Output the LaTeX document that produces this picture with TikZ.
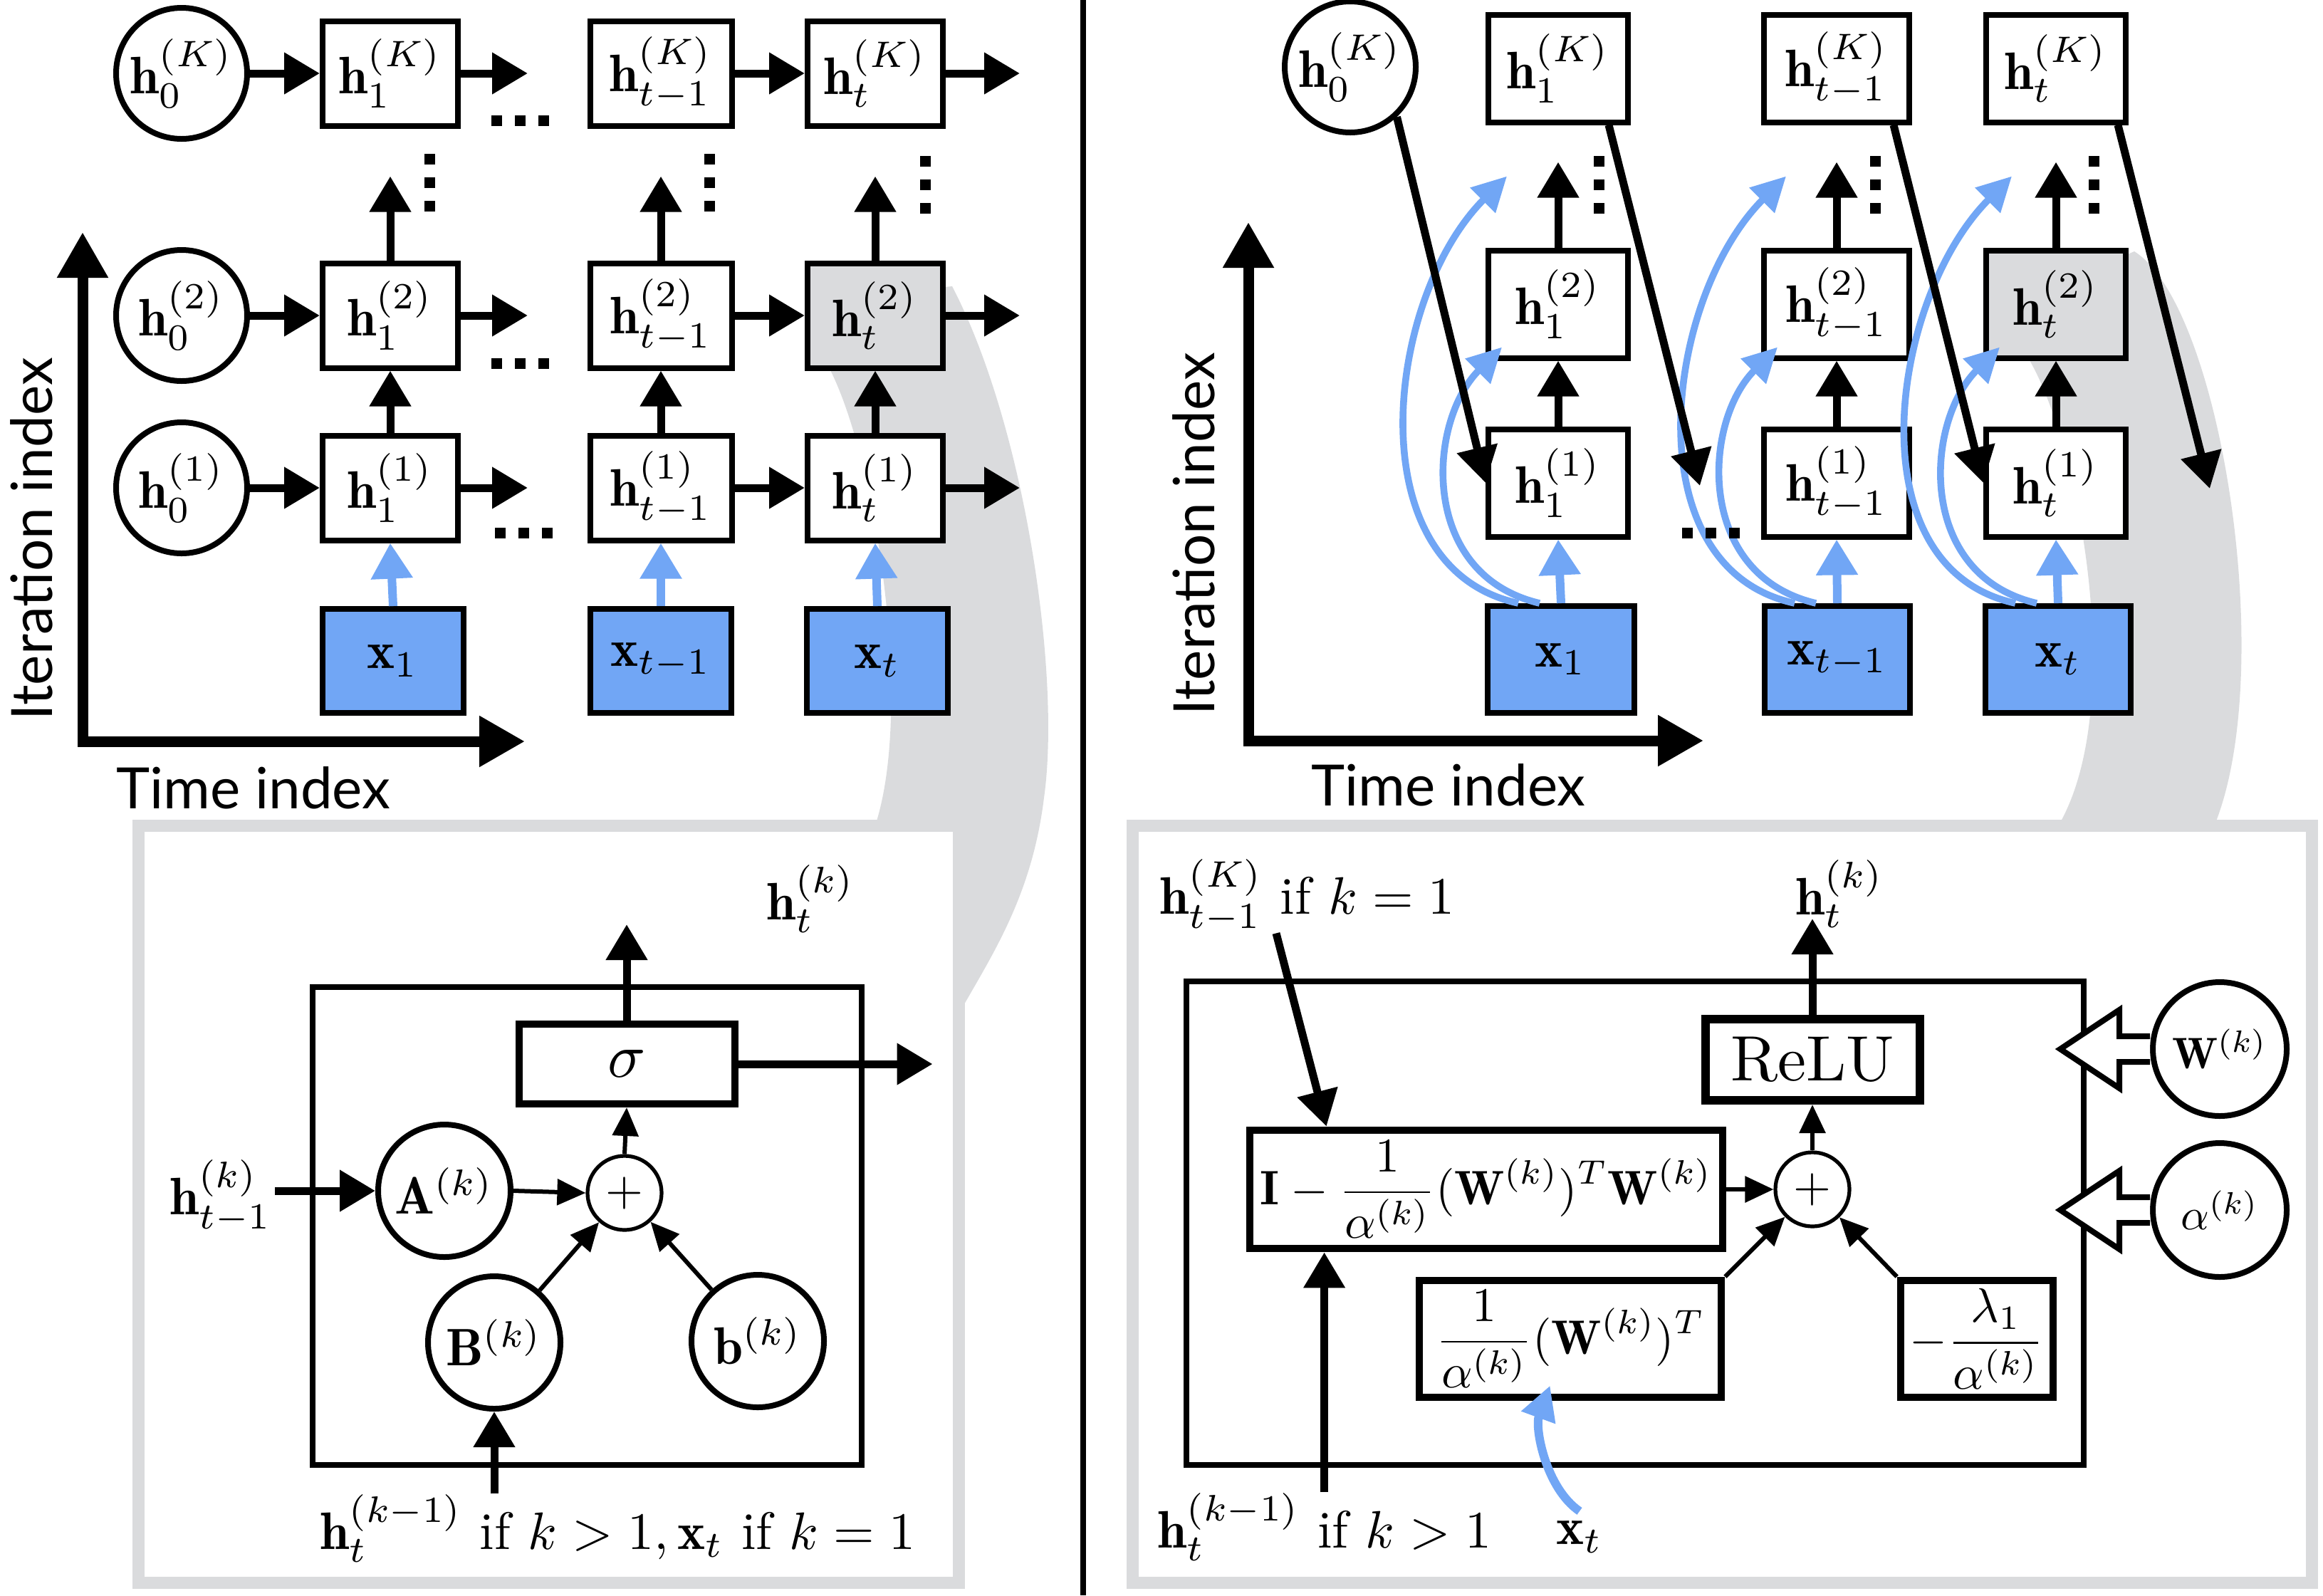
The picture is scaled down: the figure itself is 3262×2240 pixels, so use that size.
\documentclass[tikz,border=0pt]{standalone}
\usepackage{graphicx}
\usepackage{fontspec}
\newfontfamily\gillfont{Lato}
\usetikzlibrary{arrows.meta,calc}
\definecolor{xblue}{RGB}{113,166,245}
\definecolor{bandgray}{RGB}{218,219,221}
\newcommand{\mt}[1]{\scalebox{1.85}{$#1$}}
\newcommand{\lt}[1]{\scalebox{1.85}{#1}}
\newcommand{\ct}[1]{\scalebox{1.55}{$#1$}}
\newcommand{\ft}[1]{\scalebox{1.7}{$\displaystyle #1$}}
\newcommand{\axfont}{\gillfont\fontsize{20}{24}\selectfont}

\begin{document}
\begin{tikzpicture}[x=0.25pt,y=-0.25pt,
  hbox/.style={draw,line width=2pt,fill=white,minimum width=47.5pt,minimum height=36.75pt,inner sep=1pt},
  rbox/.style={hbox,minimum width=49pt,minimum height=37.75pt},
  xbox/.style={hbox,fill=xblue,minimum width=49.5pt,minimum height=36.5pt},
  hcirc/.style={draw,circle,line width=2pt,fill=white,minimum size=46pt,inner sep=0pt},
  pcirc/.style={hcirc,minimum size=46.5pt},
  plusnode/.style={draw,circle,line width=1.3pt,fill=white,minimum size=26pt,inner sep=0pt},
  opbox/.style={draw,line width=2.7pt,fill=white,inner sep=2pt},
  arr/.style={line width=2.75pt,-{Triangle[length=12.5pt,width=14pt]}},
  tarr/.style={line width=1.5pt,-{Triangle[length=10pt,width=9pt]}},
  xarr/.style={arr,xblue,line width=3pt},
  bluecurve/.style={xblue,line width=2.4pt,-{Triangle[length=12pt,width=12pt]}},
  axis/.style={line width=3.75pt,{Triangle[length=16pt,width=17pt]}-{Triangle[length=16pt,width=17pt]}},
  dotrow/.style={line width=3.75pt,dash pattern=on 3.75pt off 4.5pt},
  panel/.style={draw=bandgray,line width=4.25pt,fill=white},
  hollow/.style={line width=2pt,fill=white,line join=miter}]
\useasboundingbox (0,0) rectangle (3262,2240);

\fill[bandgray] (1150,420) -- (1163,514) .. controls (1230,640) and (1285,1000) .. (1227,1165) -- (1354,1165) -- (1354,1410)
  .. controls (1400,1330) and (1450,1250) .. (1466,1120) .. controls (1490,950) and (1440,600) .. (1337,402) -- cycle;
\fill[bandgray] (2840,420) -- (2847,501) .. controls (2920,620) and (2990,1000) .. (2887,1165) -- (3107,1165)
  .. controls (3200,950) and (3120,430) .. (2997,353) -- cycle;

\draw[line width=2pt] (1521,0) -- (1521,2240);

\node[hcirc] (LK0) at (255,103) {\mt{\mathbf{h}_0^{(K)}}};
\node[hcirc] (L20) at (255,443) {\mt{\mathbf{h}_0^{(2)}}};
\node[hcirc] (L10) at (255,685) {\mt{\mathbf{h}_0^{(1)}}};
\node[hbox] (LK1) at (548,103) {\mt{\mathbf{h}_1^{(K)}}};
\node[hbox,minimum width=49.75pt] (LKm) at (928,103) {\mt{\mathbf{h}_{t-1}^{(K)}}};
\node[hbox] (LKt) at (1229,103) {\mt{\mathbf{h}_t^{(K)}}};
\node[hbox] (L21) at (548,443) {\mt{\mathbf{h}_1^{(2)}}};
\node[hbox,minimum width=49.75pt] (L2m) at (928,443) {\mt{\mathbf{h}_{t-1}^{(2)}}};
\node[hbox,fill=bandgray] (L2t) at (1229,443) {\mt{\mathbf{h}_t^{(2)}}};
\node[hbox] (L11) at (548,685) {\mt{\mathbf{h}_1^{(1)}}};
\node[hbox,minimum width=49.75pt] (L1m) at (928,685) {\mt{\mathbf{h}_{t-1}^{(1)}}};
\node[hbox] (L1t) at (1229,685) {\mt{\mathbf{h}_t^{(1)}}};
\node[xbox] (Lx1) at (552,928) {\mt{\mathbf{x}_1}};
\node[xbox] (Lxm) at (928,928) {\mt{\mathbf{x}_{t-1}}};
\node[xbox] (Lxt) at (1232,928) {\mt{\mathbf{x}_t}};

\draw[arr] (LK0.east) -- (LK1.west);
\draw[arr] (LK1.east) -- +(94,0);
\draw[arr] (LKm.east) -- (LKt.west);
\draw[arr] (LKt.east) -- +(104,0);
\draw[arr] (L20.east) -- (L21.west);
\draw[arr] (L21.east) -- +(94,0);
\draw[arr] (L2m.east) -- (L2t.west);
\draw[arr] (L2t.east) -- +(104,0);
\draw[arr] (L10.east) -- (L11.west);
\draw[arr] (L11.east) -- +(94,0);
\draw[arr] (L1m.east) -- (L1t.west);
\draw[arr] (L1t.east) -- +(104,0);
\draw[arr] (L11.north) -- (L21.south);
\draw[arr] (L1m.north) -- (L2m.south);
\draw[arr] (L1t.north) -- (L2t.south);
\draw[arr] (L21.north) -- +(0,-118);
\draw[arr] (L2m.north) -- +(0,-118);
\draw[arr] (L2t.north) -- +(0,-118);
\draw[xarr] (Lx1.north) -- (L11.south);
\draw[xarr] (Lxm.north) -- (L1m.south);
\draw[xarr] (Lxt.north) -- (L1t.south);

\draw[dotrow] (690,169) -- +(81,0);
\draw[dotrow] (690,510) -- +(81,0);
\draw[dotrow] (695,748) -- +(81,0);
\draw[dotrow] (603,216) -- +(0,81);
\draw[dotrow] (996,216) -- +(0,81);
\draw[dotrow] (1299,219) -- +(0,81);

\draw[axis] (116,326) -- (116,1041) -- (737,1041);
\node[rotate=90,font=\axfont] (Lylab) at (44,757) {Iteration index};
\node[font=\axfont] (Lxlab) at (356,1106) {Time index};

\node[hcirc] (RK0) at (1896,94) {\mt{\mathbf{h}_0^{(K)}}};
\node[rbox] (RK1) at (2188,96) {\mt{\mathbf{h}_1^{(K)}}};
\node[rbox,minimum width=51pt] (RKm) at (2579,96) {\mt{\mathbf{h}_{t-1}^{(K)}}};
\node[rbox] (RKt) at (2887,96) {\mt{\mathbf{h}_t^{(K)}}};
\node[rbox] (R21) at (2188,427) {\mt{\mathbf{h}_1^{(2)}}};
\node[rbox,minimum width=51pt] (R2m) at (2579,427) {\mt{\mathbf{h}_{t-1}^{(2)}}};
\node[rbox,fill=bandgray] (R2t) at (2887,427) {\mt{\mathbf{h}_t^{(2)}}};
\node[rbox] (R11) at (2188,678) {\mt{\mathbf{h}_1^{(1)}}};
\node[rbox,minimum width=51pt] (R1m) at (2579,678) {\mt{\mathbf{h}_{t-1}^{(1)}}};
\node[rbox] (R1t) at (2887,678) {\mt{\mathbf{h}_t^{(1)}}};
\node[xbox,minimum width=51.5pt,minimum height=37.5pt] (Rx1) at (2192,926) {\mt{\mathbf{x}_1}};
\node[xbox,minimum width=51pt,minimum height=37.5pt] (Rxm) at (2580,926) {\mt{\mathbf{x}_{t-1}}};
\node[xbox,minimum width=51pt,minimum height=37.5pt] (Rxt) at (2890,926) {\mt{\mathbf{x}_t}};

\draw[arr] (R11.north) -- (R21.south);
\draw[arr] (R1m.north) -- (R2m.south);
\draw[arr] (R1t.north) -- (R2t.south);
\draw[arr] (R21.north) -- +(0,-120);
\draw[arr] (R2m.north) -- +(0,-120);
\draw[arr] (R2t.north) -- +(0,-120);

\draw[bluecurve] ($(Rx1.north)+(-60,0)$) .. controls +(-230,-50) and +(-170,170) .. ($(R21.north west)+(30,-100)$);
\draw[bluecurve] ($(Rx1.north)+(-30,0)$) .. controls +(-170,-40) and +(-105,105) .. ($(R21.south west)+(23,-19)$);
\draw[xarr] (Rx1.north) -- (R11.south);
\draw[bluecurve] ($(Rxm.north)+(-60,0)$) .. controls +(-230,-50) and +(-170,170) .. ($(R2m.north west)+(35,-100)$);
\draw[bluecurve] ($(Rxm.north)+(-30,0)$) .. controls +(-170,-40) and +(-105,105) .. ($(R2m.south west)+(23,-19)$);
\draw[xarr] (Rxm.north) -- (R1m.south);
\draw[bluecurve] ($(Rxt.north)+(-60,0)$) .. controls +(-230,-50) and +(-170,170) .. ($(R2t.north west)+(40,-100)$);
\draw[bluecurve] ($(Rxt.north)+(-30,0)$) .. controls +(-170,-40) and +(-105,105) .. ($(R2t.south west)+(23,-19)$);
\draw[xarr] (Rxt.north) -- (R1t.south);

\coordinate (Rgapm) at (2387,682);
\coordinate (Rgapt) at (3103,686);
\draw[arr] (RK0.-47) -- (R11.west);
\draw[arr] ($(RK1.south east)+(-31,0)$) -- (Rgapm);
\draw[arr] ($(RKm.south east)+(-26,0)$) -- (R1t.west);
\draw[arr] ($(RKt.south east)+(-15,0)$) -- (Rgapt);

\draw[dotrow] (2362,748) -- +(81,0);
\draw[dotrow] (2245,219) -- +(0,81);
\draw[dotrow] (2633,219) -- +(0,81);
\draw[dotrow] (2940,219) -- +(0,81);

\draw[axis] (1753,312) -- (1753,1040) -- (2392,1040);
\node[rotate=90,font=\axfont] (Rylab) at (1676,750) {Iteration index};
\node[font=\axfont] (Rxlab) at (2034,1102) {Time index};

\draw[panel] (194,1159) rectangle (1346,2222);
\draw[line width=2pt] (439,1386) rectangle (1210,2057);
\node[draw,line width=2.5pt,fill=white,minimum width=75.75pt,minimum height=28pt,inner sep=0pt] (sig) at (880,1494) {\scalebox{2.2}{$\sigma$}};
\node[plusnode] (Lplus) at (877,1675) {\scalebox{1.7}{$+$}};
\node[pcirc] (A) at (624,1672) {\mt{\mathbf{A}^{(k)}}};
\node[pcirc] (B) at (694,1885) {\mt{\mathbf{B}^{(k)}}};
\node[pcirc] (b) at (1064,1883) {\mt{\mathbf{b}^{(k)}}};
\node (Lhk) at (1138,1262) {\mt{\mathbf{h}_t^{(k)}}};
\node[inner sep=1pt] (Lhm) at (310,1680) {\mt{\mathbf{h}_{t-1}^{(k)}}};
\node[anchor=west,inner sep=0pt] (Lin) at (449,2146) {\lt{$\mathbf{h}_t^{(k-1)}$\ if $k>1,\mathbf{x}_t$ if $k=1$}};
\draw[arr] (sig.north) -- +(0,-135);
\draw[arr] (sig.east) -- +(273,0);
\draw[arr] (Lhm.east |- A.west) -- (A.west);
\draw[tarr] (A.east) -- (Lplus.west);
\draw[tarr] (B) -- (Lplus);
\draw[tarr] (b) -- (Lplus);
\draw[tarr] (Lplus.north) -- (sig.south);
\draw[arr] (B.south |- Lin.north) -- (B.south);

\draw[panel] (1590,1159) rectangle (3246,2222);
\draw[line width=2pt] (1666,1378) rectangle (2926,2057);
\node[draw,line width=3pt,fill=white,minimum width=75.25pt,minimum height=28.5pt,inner sep=0pt] (relu) at (2545,1488) {\scalebox{2.25}{$\mathrm{ReLU}$}};
\node[plusnode] (Rplus) at (2545,1670) {\scalebox{1.7}{$+$}};
\node[opbox,minimum width=166pt,minimum height=41.5pt] (Rbig) at (2087,1670) {\ft{\mathbf{I}-\frac{1}{\alpha^{(k)}}(\mathbf{W}^{(k)})^T\mathbf{W}^{(k)}}};
\node[opbox,minimum width=106pt,minimum height=41pt] (Rsmall) at (2205,1880) {\ft{\frac{1}{\alpha^{(k)}}(\mathbf{W}^{(k)})^T}};
\node[opbox,minimum width=53.5pt,minimum height=41pt] (Rlam) at (2776,1880) {\ft{-\frac{\lambda_1}{\alpha^{(k)}}}};
\node[hcirc,minimum size=47pt] (RW) at (3117,1473) {\ct{\mathbf{W}^{(k)}}};
\node[hcirc,minimum size=47pt] (Ra) at (3117,1699) {\ct{\alpha^{(k)}}};
\draw[hollow] (RW.west) ++(0,-18) -- ++(-43,0) -- ++(0,-37) -- ++(-83,55) -- ++(83,55) -- ++(0,-37) -- ++(43,0);
\draw[hollow] (Ra.west) ++(0,-18) -- ++(-43,0) -- ++(0,-37) -- ++(-83,55) -- ++(83,55) -- ++(0,-37) -- ++(43,0);
\node (Rhk) at (2583,1255) {\mt{\mathbf{h}_t^{(k)}}};
\node[anchor=west,inner sep=0pt] (RinK) at (1628,1258) {\lt{$\mathbf{h}_{t-1}^{(K)}$ if $k=1$}};
\node[anchor=west,inner sep=0pt] (Rin) at (1625,2144) {\lt{$\mathbf{h}_t^{(k-1)}$\ if $k>1$}};
\node (Rxl) at (2218,2158) {\mt{\mathbf{x}_t}};
\coordinate (Rup) at ($(Rbig.south west)+(110,0)$);
\draw[arr] (relu.north) -- +(0,-135);
\draw[tarr] (Rplus.north) -- (relu.south);
\draw[tarr] (Rbig.east) -- (Rplus.west);
\draw[tarr] (Rsmall.north east) -- (Rplus);
\draw[tarr] (Rlam.north west) -- (Rplus);
\draw[arr] ($(RinK.south west)+(164,0)$) -- ($(Rbig.north west)+(113,0)$);
\draw[arr] (Rup |- Rin.north) -- (Rup);
\draw[bluecurve,line width=3pt] (Rxl.north) .. controls +(-47,-32) and +(-22,60) .. ($(Rsmall.south west)+(189,-22)$);
\end{tikzpicture}
\end{document}
